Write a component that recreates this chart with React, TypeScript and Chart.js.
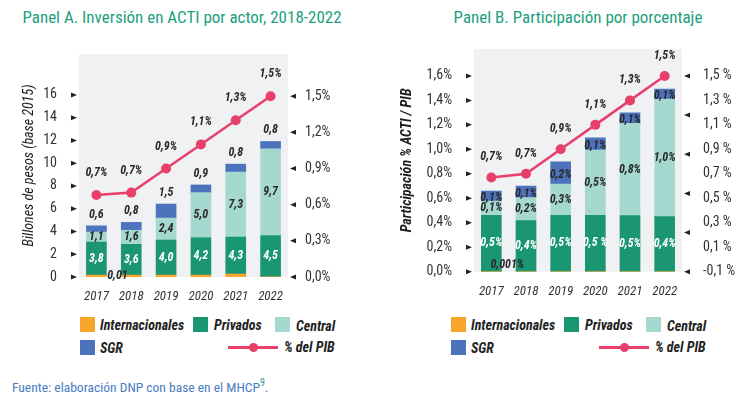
import React, { useEffect, useRef } from 'react';
import { Chart, registerables } from 'chart.js';
Chart.register(...registerables);

const FONT = "'Liberation Sans Narrow', 'Arial Narrow', 'Roboto Condensed', 'Liberation Sans', sans-serif";
const ORANGE = '#f7a62b';
const GREEN = '#1a9672';
const LIGHT = '#a5d9d0';
const BLUE = '#4d73bd';
const PINK = '#e8406b';
const PLOT_BG = '#f0f1f3';
const DARK = '#2a2a2a';

const years = ['2017', '2018', '2019', '2020', '2021', '2022'];

// Panel A (billones de pesos, base 2015)
const aInternacionales = [0.17, 0.17, 0.17, 0.17, 0.26, 0.02];
const aPrivados = [2.9, 2.7, 3.08, 3.28, 3.25, 3.63];
const aCentral = [0.88, 1.23, 1.93, 3.96, 5.71, 7.62];
const aSGR = [0.55, 0.7, 1.23, 0.68, 0.7, 0.64];
const aPIB = [0.68, 0.7, 0.9, 1.1, 1.3, 1.5];
const aLblInternacionales = ['0,01', '', '', '', '', ''];
const aLblPrivados = ['3,8', '3,6', '4,0', '4,2', '4,3', '4,5'];
const aLblCentral = ['1,1', '1,6', '2,4', '5,0', '7,3', '9,7'];
const aLblSGR = ['0,6', '0,8', '1,5', '0,9', '0,8', '0,8'];
const aLblPIB = ['0,7%', '0,7%', '0,9%', '1,1%', '1,3%', '1,5%'];
const aLeftTicks = [0, 2, 4, 6, 8, 10, 12, 14, 16];
const aRightTicks = [0, 0.3, 0.6, 0.9, 1.2, 1.5];

// Panel B (% del PIB)
const bInternacionales = [0.001, 0.001, 0.001, 0.001, 0.001, 0.001];
const bPrivados = [0.46, 0.416, 0.46, 0.46, 0.457, 0.449];
const bCentral = [0.117, 0.188, 0.256, 0.533, 0.754, 0.96];
const bSGR = [0.08, 0.095, 0.18, 0.1, 0.087, 0.082];
const bPIB = [0.67, 0.7, 0.9, 1.1, 1.3, 1.5];
const bLblInternacionales = ['0,001%', '', '', '', '', ''];
const bLblPrivados = ['0,5%', '0,4%', '0,5%', '0,5 %', '0,5%', '0,4%'];
const bLblCentral = ['0,1%', '0,2%', '0,3%', '0,5%', '0,8%', '1,0%'];
const bLblSGR = ['0,1%', '0,1%', '0,2%', '0,1%', '0,1%', '0,1%'];
const bLblPIB = ['0,7%', '0,7%', '0,9%', '1,1%', '1,3%', '1,5%'];
const bLeftTicks = [0, 0.2, 0.4, 0.6, 0.8, 1.0, 1.2, 1.4, 1.6];
const bRightTicks = [-0.1, 0.1, 0.3, 0.5, 0.7, 0.9, 1.1, 1.3, 1.5];
const bRightMarks = [-0.1, 0.22, 0.54, 0.86, 1.18, 1.5];

type PanelCfg = {
  width: number; height: number;
  inter: number[]; priv: number[]; central: number[]; sgr: number[]; pib: number[];
  lInter: string[]; lPriv: string[]; lCentral: string[]; lSgr: string[]; lPib: string[];
  leftTicks: number[]; rightTicks: number[]; rightMarks: number[];
  leftMax: number; rightMin: number; rightMax: number;
  leftFmt: (v: number) => string; rightFmt: (v: number) => string;
  leftW: number; rightW: number; top: number; xH: number;
  leftPad: number; rightPad: number;
  yTitle: string; yTitleWeight: string; yTitleX: number;
  sgrMode: 'above' | 'center'; sgrOffset: number; pibOffset: number;
  interDx: number; interDy: number;
};

function Panel({ cfg }: { cfg: PanelCfg }) {
  const ref = useRef<HTMLCanvasElement | null>(null);
  useEffect(() => {
    if (!ref.current) return;
    const tickFont = { family: FONT, size: 14 };
    const labelFont = `italic bold 12px ${FONT}`;

    const custom = {
      id: 'custom',
      beforeDraw(chart: any) {
        const { ctx, chartArea: ca } = chart;
        ctx.save();
        ctx.fillStyle = PLOT_BG;
        ctx.fillRect(ca.left, ca.top, ca.right - ca.left, ca.bottom - ca.top);
        ctx.restore();
      },
      afterDatasetsDraw(chart: any) {
        const { ctx } = chart;
        ctx.save();
        ctx.font = labelFont;
        ctx.textAlign = 'center';
        ctx.textBaseline = 'middle';
        const draw = (di: number, labels: string[], color: string, pos: (p: any) => [number, number]) => {
          const meta = chart.getDatasetMeta(di);
          meta.data.forEach((el: any, j: number) => {
            const t = labels[j];
            if (!t) return;
            const p = el.getProps(['x', 'y', 'base'], true);
            const [x, y] = pos(p);
            ctx.fillStyle = color;
            ctx.fillText(t, x, y);
          });
        };
        draw(1, cfg.lInter, DARK, (p) => [p.x + cfg.interDx, p.base - cfg.interDy]);
        draw(2, cfg.lPriv, '#ffffff', (p) => [p.x, (p.y + p.base) / 2]);
        draw(3, cfg.lCentral, DARK, (p) => [p.x, (p.y + p.base) / 2]);
        draw(4, cfg.lSgr, DARK, (p) =>
          cfg.sgrMode === 'above' ? [p.x, p.y - cfg.sgrOffset] : [p.x, (p.y + p.base) / 2 + cfg.sgrOffset]
        );
        draw(0, cfg.lPib, DARK, (p) => [p.x, p.y - cfg.pibOffset]);
        ctx.restore();
      },
      afterDraw(chart: any) {
        const { ctx, chartArea: ca, scales } = chart;
        ctx.save();
        ctx.fillStyle = '#222';
        cfg.leftTicks.forEach((v) => {
          const y = scales.y.getPixelForValue(v);
          ctx.beginPath();
          ctx.moveTo(ca.left - 8, y - 2.5);
          ctx.lineTo(ca.left - 8, y + 2.5);
          ctx.lineTo(ca.left - 2, y);
          ctx.closePath();
          ctx.fill();
        });
        cfg.rightMarks.forEach((v) => {
          const y = scales.y1.getPixelForValue(v);
          ctx.beginPath();
          ctx.moveTo(ca.right + 8, y - 2.5);
          ctx.lineTo(ca.right + 8, y + 2.5);
          ctx.lineTo(ca.right + 2, y);
          ctx.closePath();
          ctx.fill();
        });
        ctx.translate(cfg.yTitleX, (ca.top + ca.bottom) / 2);
        ctx.rotate(-Math.PI / 2);
        ctx.font = `italic ${cfg.yTitleWeight} 14px ${FONT}`;
        ctx.textAlign = 'center';
        ctx.textBaseline = 'middle';
        ctx.fillStyle = '#1e1e1e';
        ctx.fillText(cfg.yTitle, 0, 0);
        ctx.restore();
      },
    };

    const chart = new Chart(ref.current, {
      type: 'bar',
      data: {
        labels: years,
        datasets: [
          {
            type: 'line', label: '% del PIB', data: cfg.pib, yAxisID: 'y1',
            borderColor: PINK, backgroundColor: PINK, borderWidth: 2.5,
            pointRadius: 5, pointBackgroundColor: PINK, pointBorderWidth: 0, order: 0,
          } as any,
          { label: 'Internacionales', data: cfg.inter, backgroundColor: ORANGE, yAxisID: 'y', order: 1, barThickness: 20 },
          { label: 'Privados', data: cfg.priv, backgroundColor: GREEN, yAxisID: 'y', order: 1, barThickness: 20 },
          { label: 'Central', data: cfg.central, backgroundColor: LIGHT, yAxisID: 'y', order: 1, barThickness: 20 },
          { label: 'SGR', data: cfg.sgr, backgroundColor: BLUE, yAxisID: 'y', order: 1, barThickness: 20 },
        ],
      },
      options: {
        responsive: false,
        animation: false,
        devicePixelRatio: 1,
        layout: { padding: { top: cfg.top, left: 0, right: 0, bottom: 0 } },
        plugins: { legend: { display: false }, tooltip: { enabled: false } },
        scales: {
          x: {
            stacked: true,
            grid: { display: false, drawTicks: false },
            border: { display: false },
            ticks: { font: { family: FONT, size: 13, style: 'italic' }, color: '#333', padding: 12, maxRotation: 0 },
            afterFit: (s: any) => { s.height = cfg.xH; },
          },
          y: {
            stacked: true, position: 'left', min: 0, max: cfg.leftMax,
            grid: { display: false, drawTicks: false },
            border: { display: false },
            afterBuildTicks: (s: any) => { s.ticks = cfg.leftTicks.map((v) => ({ value: v })); },
            ticks: { font: tickFont, color: '#333', padding: cfg.leftPad, callback: (v: any) => cfg.leftFmt(Number(v)) },
            afterFit: (s: any) => { s.width = cfg.leftW; },
          },
          y1: {
            position: 'right', min: cfg.rightMin, max: cfg.rightMax,
            grid: { display: false, drawTicks: false },
            border: { display: false },
            afterBuildTicks: (s: any) => { s.ticks = cfg.rightTicks.map((v) => ({ value: v })); },
            ticks: { font: tickFont, color: '#333', padding: cfg.rightPad, callback: (v: any) => cfg.rightFmt(Number(v)) },
            afterFit: (s: any) => { s.width = cfg.rightW; },
          },
        },
      } as any,
      plugins: [custom],
    });
    return () => chart.destroy();
  }, [cfg]);
  return <canvas ref={ref} width={cfg.width} height={cfg.height} style={{ display: 'block', width: cfg.width, height: cfg.height }} />;
}

const fmt1 = (v: number) => v.toFixed(1).replace('.', ',');

const cfgA: PanelCfg = {
  width: 370, height: 310,
  inter: aInternacionales, priv: aPrivados, central: aCentral, sgr: aSGR, pib: aPIB,
  lInter: aLblInternacionales, lPriv: aLblPrivados, lCentral: aLblCentral, lSgr: aLblSGR, lPib: aLblPIB,
  leftTicks: aLeftTicks, rightTicks: aRightTicks, rightMarks: aRightTicks,
  leftMax: 19.6, rightMin: 0, rightMax: 1.85,
  leftFmt: (v) => String(Math.round(v)), rightFmt: (v) => fmt1(v) + '%',
  leftW: 79, rightW: 82, top: 54, xH: 33, leftPad: 22, rightPad: 17,
  yTitle: 'Billones de pesos (base 2015)', yTitleWeight: 'normal', yTitleX: 29,
  sgrMode: 'above', sgrOffset: 11, pibOffset: 22, interDx: 21, interDy: 1,
};

const cfgB: PanelCfg = {
  width: 369, height: 310,
  inter: bInternacionales, priv: bPrivados, central: bCentral, sgr: bSGR, pib: bPIB,
  lInter: bLblInternacionales, lPriv: bLblPrivados, lCentral: bLblCentral, lSgr: bLblSGR, lPib: bLblPIB,
  leftTicks: bLeftTicks, rightTicks: bRightTicks, rightMarks: bRightMarks,
  leftMax: 1.82, rightMin: -0.1, rightMax: 1.72,
  leftFmt: (v) => fmt1(v) + '%', rightFmt: (v) => fmt1(v) + ' %',
  leftW: 104, rightW: 57, top: 49, xH: 38.3, leftPad: 22, rightPad: 21,
  yTitle: 'Participación % ACTI / PIB', yTitleWeight: 'bold', yTitleX: 37,
  sgrMode: 'center', sgrOffset: 2, pibOffset: 20, interDx: 16, interDy: 7,
};

const legendText: React.CSSProperties = {
  position: 'absolute', fontFamily: FONT, fontSize: 14, fontStyle: 'italic', fontWeight: 'bold',
  color: '#222', lineHeight: '16px', whiteSpace: 'nowrap',
};

function Legend({ x }: { x: number }) {
  const sq = (left: number, top: number, color: string) => (
    <div style={{ position: 'absolute', left: x + left, top, width: 15, height: 15, background: color }} />
  );
  const txt = (left: number, top: number, t: string) => (
    <div style={{ ...legendText, left: x + left, top }}>{t}</div>
  );
  return (
    <>
      {sq(0, 317, ORANGE)}
      {txt(20, 317, 'Internacionales')}
      {sq(113, 317, GREEN)}
      {txt(134, 317, 'Privados')}
      {sq(195, 317, LIGHT)}
      {txt(216, 318, 'Central')}
      {sq(0, 340, BLUE)}
      {txt(20, 340, 'SGR')}
      <div style={{ position: 'absolute', left: x + 148, top: 346, width: 50, height: 2.5, background: PINK }} />
      <div style={{ position: 'absolute', left: x + 168.5, top: 342.5, width: 9, height: 9, borderRadius: '50%', background: PINK }} />
      {txt(204, 339, '% del PIB')}
    </>
  );
}

const titleStyle: React.CSSProperties = {
  position: 'absolute', top: 6, fontFamily: FONT, fontSize: 17, color: '#21a07f',
  textAlign: 'center', whiteSpace: 'nowrap', lineHeight: '22px',
};

export default function App() {
  return (
    <div style={{ position: 'fixed', left: 0, top: 0, width: 739, height: 397, background: '#fff', overflow: 'hidden' }}>
      <div style={{ ...titleStyle, left: 0, width: 364 }}>Panel A. Inversión en ACTI por actor, 2018-2022</div>
      <div style={{ ...titleStyle, left: 393, width: 370 }}>Panel B. Participación por porcentaje</div>
      <div style={{ position: 'absolute', left: 0, top: 0 }}>
        <Panel cfg={cfgA} />
      </div>
      <div style={{ position: 'absolute', left: 370, top: 0 }}>
        <Panel cfg={cfgB} />
      </div>
      <Legend x={80} />
      <Legend x={451} />
      <div style={{ position: 'absolute', left: 12, top: 377, fontFamily: FONT, fontSize: 13.5, color: '#4a7cc4', whiteSpace: 'nowrap' }}>
        Fuente: elaboración DNP con base en el MHCP<sup style={{ color: '#21a07f', fontSize: 10 }}>9</sup>.
      </div>
    </div>
  );
}
